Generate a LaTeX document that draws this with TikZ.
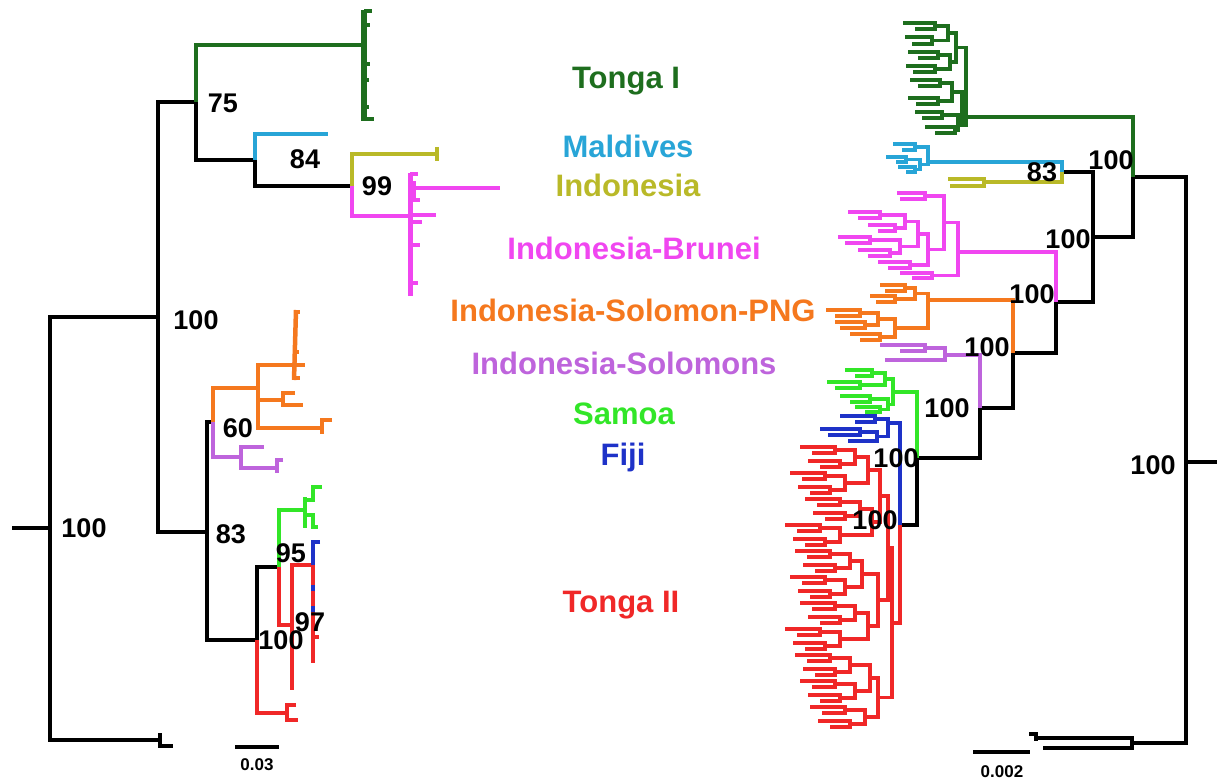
\documentclass[tikz,border=0pt]{standalone}
\usepackage{fontspec}
\setmainfont{Liberation Sans}
\usepackage{xcolor}
\usepackage{tikz}
\usetikzlibrary{positioning}

\definecolor{tongaone}{RGB}{30,110,30}
\definecolor{maldc}{RGB}{40,165,215}
\definecolor{indoc}{RGB}{185,185,40}
\definecolor{brunc}{RGB}{240,70,240}
\definecolor{solpng}{RGB}{245,120,30}
\definecolor{solsc}{RGB}{190,100,220}
\definecolor{samc}{RGB}{50,230,40}
\definecolor{fijc}{RGB}{30,50,200}
\definecolor{tongatwo}{RGB}{240,40,40}

\begin{document}
\begin{tikzpicture}[x=1pt, y=-1pt,
  br/.style={line width=3.8pt},
  leaf/.style={line width=3.4pt},
  clade/.style={font=\fontsize{31}{34}\selectfont\bfseries, anchor=base, inner sep=0pt},
  boot/.style={font=\fontsize{27}{30}\selectfont\bfseries, anchor=base, inner sep=0pt},
  scalelbl/.style={font=\fontsize{17}{20}\selectfont\bfseries, anchor=base, inner sep=0pt}]
  \useasboundingbox (0,0) rectangle (1217,783);

  % ---------- left tree ----------
  \draw[br] (12,528) -- (50,528);
  \draw[br] (158,317) -| (50,740) -- (160,740);
  \draw[br] (160,733) -- (160,746) -- (173,746);
  \draw[br] (196,102) -| (158,532) -- (207,532);
  \draw[br] (196,102) -- (196,160) -- (255,160);
  \draw[br, tongaone] (196,102) |- (364,45);
  \draw[tongaone, line width=5.5pt] (364,10) -- (364,121);
  \foreach \y/\l in {11/372, 25/370, 64/370, 80/369, 107/369, 119/374}
    \draw[br, tongaone] (364,\y) -- (\l,\y);
  \draw[br] (255,160) -- (255,186) -- (352,186);
  \draw[br, maldc] (255,160) |- (328,134);
  \draw[br, indoc] (352,186) |- (437,154);
  \draw[br, indoc] (437,147) -- (437,161);
  \draw[br, brunc] (352,186) |- (410,216);
  \draw[brunc, line width=5pt] (410,173) -- (410,296);
  \draw[br, brunc] (414,181) -- (414,198);
  \draw[br, brunc] (414,188) -- (500,188);
  \foreach \y/\l in {174/418, 200/420, 215/436, 222/422, 245/420, 283/418}
    \draw[br, brunc] (410,\y) -- (\l,\y);

  \draw[br] (213,422) -- (207,422) -- (207,640) -- (257,640);
  \draw[br, solpng] (213,422) |- (258,388);
  \draw[br, solpng] (293,365) -- (258,365) -- (258,428) -- (322,428);
  \draw[br, solpng] (258,400) -- (283,400);
  \draw[solpng, line width=4.5pt] (296,310) -- (294,380);
  \foreach \y/\l in {312/300, 352/299, 365/305, 378/300}
    \draw[br, solpng] (294,\y) -- (\l,\y);
  \draw[br, solpng] (295,393) -| (283,405) -- (303,405);
  \draw[br, solpng] (332,420) -| (322,434);
  \draw[br, solsc] (213,422) |- (241,457);
  \draw[br, solsc] (264,447) -| (241,468) -- (277,468);
  \draw[br, solsc] (283,460) -| (277,473);

  \draw[br] (257,640) -- (257,567) -- (279,567);
  \draw[br, samc] (279,567) |- (305,510);
  \draw[br, samc] (305,497) -- (305,528);
  \draw[br, samc] (322,487) -| (313,500) -- (305,500);
  \draw[br, samc] (305,515) -- (313,515) -- (313,527) -- (318,527);
  \draw[br, tongatwo] (279,567) |- (292,625);
  \draw[br, tongatwo] (313,565) -| (292,690);
  \draw[br, tongatwo] (313,565) -- (313,663);
  \draw[br, tongatwo] (313,637) -- (319,637);
  \draw[br, fijc] (320,542) -| (313,565);
  \draw[br, fijc] (313,585) -- (313,591);
  \draw[br, fijc] (313,606) -- (313,612);
  \draw[br, tongatwo] (257,640) |- (287,713);
  \draw[br, tongatwo] (296,705) -| (287,720) -- (298,720);

  \draw[br] (235,747) -- (279,747);
  \node[scalelbl] (scaleA) at (257,770) {0.03};

  % ---------- right tree ----------
  \draw[br] (1217,462) -- (1186,462);
  \draw[br] (1133,177) -| (1186,743) -- (1132,743);
  \draw[br] (1035,738) -| (1132,748) -- (1043,748);
  \draw[br] (1029,734) -- (1036,734) -- (1036,741);
  \draw[br] (973,752) -- (1030,752);
  \node[scalelbl] (scaleB) at (1002,777) {0.002};

  \draw[br, tongaone] (1133,177) |- (966,117);
  \draw[br] (1133,177) -- (1133,237) -- (1093,237);
  \draw[br] (1062,172) -| (1093,302) -- (1056,302);
  \draw[br, maldc] (1062,172) |- (928,162);
  \draw[br, indoc] (1062,172) |- (984,182);
  \draw[br, brunc] (1056,302) |- (958,252);
  \draw[br] (1056,302) -- (1056,353) -- (1013,353);
  \draw[br, solpng] (1013,353) |- (928,300);
  \draw[br] (1013,353) -- (1013,408) -- (980,408);
  \draw[br, solsc] (980,408) |- (945,355);
  \draw[br] (980,408) -- (980,458) -- (917,458);
  \draw[br, samc] (917,458) |- (893,392);
  \draw[br] (917,458) -- (917,525) -- (900,525);
  \draw[br, fijc] (900,525) |- (888,423);
  \draw[br, tongatwo] (900,525) |- (892,623);

  % clades on the right
  \foreach \xa/\ya/\xb/\yb/\xn in {903/23/915/29/935, 905/37/912/44/932,
      908/52/918/58/938, 906/66/913/72/935, 910/80/918/86/940, 908/98/916/104/938,
      915/112/922/118/942, 925/127/935/133/955, 935/26/932/40.5/948,
      938/55/935/69/950, 940/83/938/101/952, 942/115/955/130/958,
      948/33/950/62/956, 952/92/958/122.5/962, 956/47.5/958/125/966}
    \draw[leaf, tongaone] (\xa,\ya) -| (\xn,\yb) -- (\xb,\yb);
  \foreach \xa/\ya/\xb/\yb/\xn in {893/144/902/150/915, 886/157/896/162/906,
      898/167/906/172/915, 906/159.5/915/169.5/920, 915/147/920/164.5/928}
    \draw[leaf, maldc] (\xa,\ya) -| (\xn,\yb) -- (\xb,\yb);
  \draw[leaf, indoc] (948,179) -| (984,186) -- (950,186);
  \foreach \xa/\ya/\xb/\yb/\xn in {897/193/900/199/925, 848/212/858/218/880,
      868/225/878/231/895, 838/237/845/243/870, 858/250/868/256/890,
      878/262/888/268/910, 900/273/912/278/932, 880/215/895/228/905,
      870/240/890/253/900, 905/221.5/900/246.5/918, 918/234/910/265/928,
      925/196/928/249.5/944, 944/222.75/932/275.5/958}
    \draw[leaf, brunc] (\xa,\ya) -| (\xn,\yb) -- (\xb,\yb);
  \foreach \xa/\ya/\xb/\yb/\xn in {880/285/885/291/905, 870/296/876/302/895,
      826/310/835/316/860, 835/322/840/328/865, 850/334/860/340/880,
      905/288/895/299/915, 860/313/865/325/878, 878/319/880/337/895,
      915/293.5/895/328/928}
    \draw[leaf, solpng] (\xa,\ya) -| (\xn,\yb) -- (\xb,\yb);
  \foreach \xa/\ya/\xb/\yb/\xn in {880/345/900/351/925, 925/348/885/360/945}
    \draw[leaf, solsc] (\xa,\ya) -| (\xn,\yb) -- (\xb,\yb);
  \foreach \xa/\ya/\xb/\yb/\xn in {845/370/855/376/872, 827/382/835/388/860,
      840/396/850/402/870, 855/407/865/412/880, 872/373/860/385/885,
      870/399/880/409.5/888, 885/379/888/404.25/893}
    \draw[leaf, samc] (\xa,\ya) -| (\xn,\yb) -- (\xb,\yb);
  \foreach \xa/\ya/\xb/\yb/\xn in {840/416/855/422/875, 820/429/828/435/860,
      860/432/848/441/877, 875/419/877/436.5/888}
    \draw[leaf, fijc] (\xa,\ya) -| (\xn,\yb) -- (\xb,\yb);
  \foreach \y/\L in {447/800, 473/790, 499/805, 525/785, 551/795, 577/790,
      603/800, 629/785, 655/795, 681/800, 707/810} {
    \draw[leaf, tongatwo] (\L,\y) -| ({\L+35},{\y+6}) -- ({\L+12},{\y+6});
    \draw[leaf, tongatwo] ({\L+8},{\y+14}) -| ({\L+40},{\y+20}) -- ({\L+20},{\y+20});
    \draw[leaf, tongatwo] ({\L+35},{\y+3}) -| ({\L+55},{\y+17}) -- ({\L+40},{\y+17});
  }
  \foreach \xa/\ya/\xb/\yb/\xn in {855/457/845/483/868, 860/509/840/535/872,
      850/561/845/587/862, 855/613/840/639/868, 850/665/855/691/870,
      868/470/872/522/880, 862/574/868/626/878, 870/678/865/717/878,
      880/496/878/600/888, 888/548/878/697.5/892}
    \draw[leaf, tongatwo] (\xa,\ya) -| (\xn,\yb) -- (\xb,\yb);

  % bootstrap values
  \node[boot] (bRootL)  at (84,537)   {100};
  \node[boot] (bUpL)    at (196,330)  {100};
  \node[boot] (bSevFiv) at (223,113)  {75};
  \node[boot] (bEigFou) at (305,169)  {84};
  \node[boot] (bNinNin) at (377,196)  {99};
  \node[boot] (bSixty)  at (238,437)  {60};
  \node[boot] (bEigThr) at (231,543)  {83};
  \node[boot] (bNinFiv) at (291,562)  {95};
  \node[boot] (bNinSev) at (310,631)  {97};
  \node[boot] (bLowL)   at (281,649)  {100};
  \node[boot] (bRootR)  at (1153,474) {100};
  \node[boot] (bTopR)   at (1111,170) {100};
  \node[boot] (bEigThR) at (1042,182) {83};
  \node[boot] (bBrR)    at (1068,249) {100};
  \node[boot] (bPngR)   at (1032,304) {100};
  \node[boot] (bSolR)   at (987,356)  {100};
  \node[boot] (bSamR)   at (947,417)  {100};
  \node[boot] (bFijR)   at (896,467)  {100};
  \node[boot] (bTonR)   at (875,529)  {100};

  % clade names
  \node[clade, text=tongaone] (tongaI)  at (626,89)  {Tonga I};
  \node[clade, text=maldc]    (maldv)   at (628,158) {Maldives};
  \node[clade, text=indoc]    (indon)   at (628,197) {Indonesia};
  \node[clade, text=brunc]    (brunei)  at (634,260) {Indonesia-Brunei};
  \node[clade, text=solpng]   (solpngl) at (633,322) {Indonesia-Solomon-PNG};
  \node[clade, text=solsc]    (solsl)   at (624,374) {Indonesia-Solomons};
  \node[clade, text=samc]     (samoa)   at (624,424) {Samoa};
  \node[clade, text=fijc]     (fiji)    at (623,465) {Fiji};
  \node[clade, text=tongatwo] (tongaII) at (621,612) {Tonga II};
\end{tikzpicture}
\end{document}
